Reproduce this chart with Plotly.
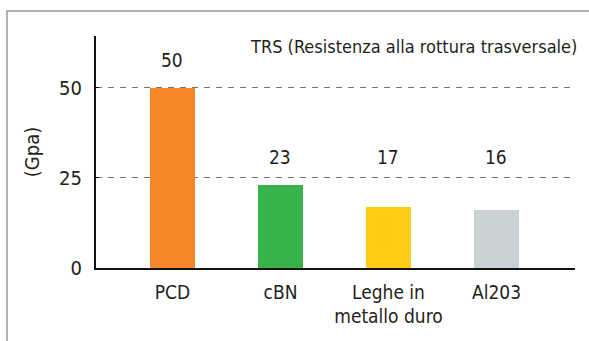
import plotly.graph_objects as go

# Transverse rupture strength by tool material
categories = ["PCD", "cBN", "Leghe in<br>metallo duro", "Al203"]
values = [50, 23, 17, 16]
bar_colors = ["#F5872A", "#37B34A", "#FFCB17", "#CAD1D4"]
y_ticks = [0, 25, 50]
title_text = "TRS (Resistenza alla rottura trasversale)"
y_title = "(Gpa)"

W, H = 589, 341
L, R, T, B = 96, 14, 36, 73
plot_w = W - L - R
plot_h = H - T - B

font_main = "DejaVu Sans Condensed, Liberation Sans Narrow, sans-serif"
text_color = "#231F20"

x_idx = list(range(len(categories)))

fig = go.Figure()
fig.add_trace(go.Bar(
    x=x_idx,
    y=values,
    marker=dict(color=bar_colors, line=dict(width=0)),
    width=0.42,
    hoverinfo="skip",
))

# value labels: small bars share the row of the second bar's label
label_floor = values[1]
for i, v in enumerate(values):
    fig.add_annotation(
        x=i, y=max(v, label_floor), yref="y", xref="x",
        text=str(v), showarrow=False, yanchor="middle", yshift=28,
        font=dict(size=19, color=text_color, family=font_main),
    )

fig.add_annotation(
    x=(579 - L) / plot_w, y=(H - B - 46) / plot_h,
    xref="paper", yref="paper", xanchor="right", yanchor="middle",
    text=title_text, showarrow=False,
    font=dict(size=18, color=text_color, family=font_main),
)

# frame around the chart area
fig.add_shape(
    type="rect", xref="paper", yref="paper",
    x0=(7 - L) / plot_w, x1=(W + 10 - L) / plot_w,
    y0=-0.6, y1=(H - B - 11) / plot_h,
    line=dict(color="#9A9A9A", width=1.5), layer="below",
)

fig.update_layout(
    width=W, height=H,
    margin=dict(l=L, r=R, t=T, b=B),
    paper_bgcolor="white", plot_bgcolor="white",
    showlegend=False,
    bargap=0,
    xaxis=dict(
        range=[-0.708, 3.727],
        tickmode="array", tickvals=x_idx, ticktext=categories,
        showgrid=False, zeroline=False,
        showline=True, linecolor="#111", linewidth=1.5,
        ticks="", ticklabelstandoff=6,
        tickfont=dict(size=19, color=text_color, family=font_main),
        fixedrange=True,
    ),
    yaxis=dict(
        range=[0, 64.4],
        tickmode="array", tickvals=y_ticks,
        showgrid=True, gridcolor="#747474", griddash="6px,6px", gridwidth=1,
        zeroline=False,
        showline=True, linecolor="#111", linewidth=2,
        ticks="inside", ticklen=3, tickcolor="#111",
        ticklabelstandoff=8,
        tickfont=dict(size=20, color=text_color, family=font_main),
        title=dict(text=y_title, standoff=14,
                   font=dict(size=20, color=text_color, family=font_main)),
        fixedrange=True,
    ),
)

fig.write_html("out.html")
